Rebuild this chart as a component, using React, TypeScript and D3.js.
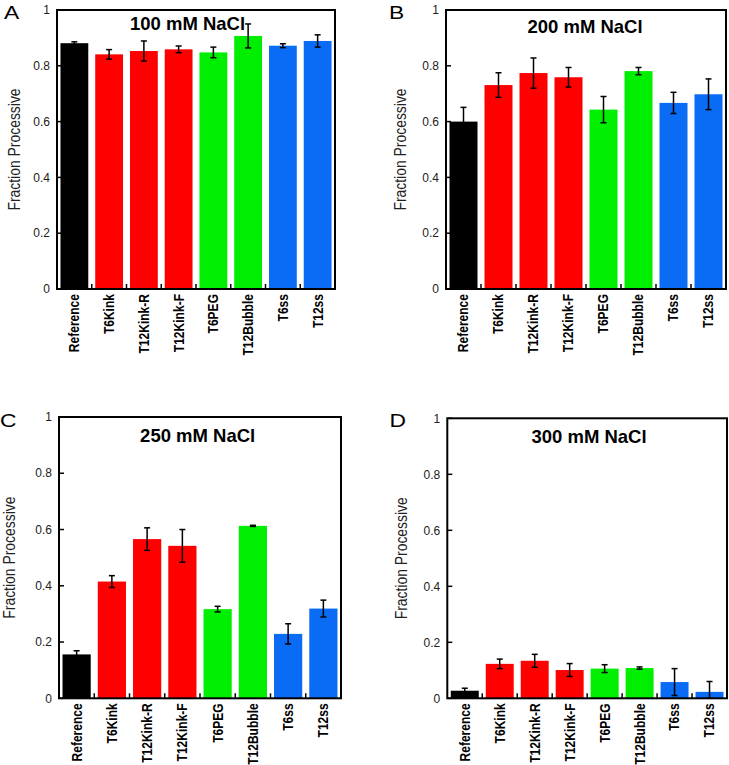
import React from "react";
import * as d3 from "d3";

const categories = ["Reference", "T6Kink", "T12Kink-R", "T12Kink-F", "T6PEG", "T12Bubble", "T6ss", "T12ss"];
const groups = ["ref", "kink", "kink", "kink", "flex", "flex", "ss", "ss"];

const panelLetters = ["A", "B", "C", "D"];
const panelTitles = ["100 mM NaCl", "200 mM NaCl", "250 mM NaCl", "300 mM NaCl"];

const values100 = [0.881, 0.841, 0.853, 0.859, 0.848, 0.907, 0.872, 0.889];
const errors100 = [0.005, 0.017, 0.036, 0.012, 0.019, 0.043, 0.007, 0.022];
const values200 = [0.600, 0.731, 0.774, 0.759, 0.643, 0.781, 0.667, 0.698];
const errors200 = [0.051, 0.044, 0.054, 0.035, 0.047, 0.013, 0.038, 0.055];
const values250 = [0.156, 0.415, 0.566, 0.542, 0.317, 0.613, 0.229, 0.319];
const errors250 = [0.013, 0.021, 0.040, 0.058, 0.010, 0.002, 0.036, 0.030];
const values300 = [0.027, 0.123, 0.134, 0.101, 0.106, 0.108, 0.058, 0.023];
const errors300 = [0.009, 0.017, 0.023, 0.023, 0.014, 0.004, 0.048, 0.037];

const yTicks = [0, 0.2, 0.4, 0.6, 0.8, 1];

const panelValues = [values100, values200, values250, values300];
const panelErrors = [errors100, errors200, errors250, errors300];

const groupColors: Record<string, string> = {
  ref: "#000000",
  kink: "#ff0000",
  flex: "#00ee00",
  ss: "#0a6cf5",
};

// layout (pixel geometry, not data)
const layouts = [
  { left: 57, right: 335, top: 10, bottom: 289, titleX: 187.5, titleY: 29.5, letterX: 4, letterY: 18.5, yLabelX: 14 },
  { left: 446, right: 726, top: 10, bottom: 289, titleX: 585, titleY: 33, letterX: 389, letterY: 18.5, yLabelX: 400 },
  { left: 59, right: 341, top: 417, bottom: 698.3, titleX: 197.7, titleY: 441.7, letterX: 0, letterY: 427, yLabelX: 9.5 },
  { left: 447.3, right: 727, top: 418.3, bottom: 698.3, titleX: 589, titleY: 442.7, letterX: 389.5, letterY: 427, yLabelX: 401 },
];

const FONT = "'Liberation Sans', Arial, Helvetica, sans-serif";

function Panel({ idx }: { idx: number }) {
  const L = layouts[idx];
  const vals = panelValues[idx];
  const errs = panelErrors[idx];
  const x = d3.scaleBand<string>().domain(categories).range([L.left, L.right]).paddingInner(0.2).paddingOuter(0.1);
  const y = d3.scaleLinear().domain([0, 1]).range([L.bottom, L.top]);
  const fmt = d3.format("~g");
  const step = x.step();
  const bw = x.bandwidth();
  const boundaries = categories.slice(0, -1).map((c) => (x(c) as number) + bw + step * 0.1);
  const capW = 6;
  return (
    <g>
      <text transform={`translate(${L.letterX},${L.letterY}) scale(1.2,1)`} fontSize={19} fontFamily={FONT}>{panelLetters[idx]}</text>
      {vals.map((v, i) => {
        const cx = (x(categories[i]) as number);
        return (
          <rect key={"b" + i} x={cx} y={y(v)} width={bw} height={y(0) - y(v)} fill={groupColors[groups[i]]} />
        );
      })}
      {vals.map((v, i) => {
        const cx = (x(categories[i]) as number) + bw / 2;
        const lo = Math.max(0, v - errs[i]);
        const hi = v + errs[i];
        return (
          <g key={"e" + i} stroke="#000" strokeWidth={1.5}>
            <line x1={cx} x2={cx} y1={y(lo)} y2={y(hi)} />
            <line x1={cx - capW / 2} x2={cx + capW / 2} y1={y(hi)} y2={y(hi)} />
            <line x1={cx - capW / 2} x2={cx + capW / 2} y1={y(lo)} y2={y(lo)} />
          </g>
        );
      })}
      {boundaries.map((bx, i) => (
        <line key={"xt" + i} x1={bx} x2={bx} y1={L.bottom} y2={L.bottom - 5} stroke="#000" strokeWidth={1.5} />
      ))}
      {yTicks.map((t) => (
        <g key={"yt" + t}>
          <line x1={L.left} x2={L.left + 5} y1={y(t)} y2={y(t)} stroke="#000" strokeWidth={1.5} />
          <text x={L.left - 7} y={y(t)} dy="0.35em" textAnchor="end" fontSize={12} fontFamily={FONT} fill="#222">{fmt(t)}</text>
        </g>
      ))}
      <rect x={L.left} y={L.top} width={L.right - L.left} height={L.bottom - L.top} fill="none" stroke="#000" strokeWidth={2} />
      <text x={L.titleX} y={L.titleY} textAnchor="middle" fontSize={18.5} fontWeight="bold" fontFamily={FONT}>{panelTitles[idx]}</text>
      <text
        transform={`translate(${L.yLabelX},${(L.top + L.bottom) / 2}) rotate(-90) scale(0.87,1)`}
        textAnchor="middle"
        dy="0.35em"
        fontSize={16}
        fontFamily={FONT}
        fill="#222"
      >
        Fraction Processive
      </text>
      {categories.map((c) => {
        const cx = (x(c) as number) + bw / 2;
        return (
          <text
            key={"xl" + c}
            transform={`translate(${cx},${L.bottom + 5}) rotate(-90) scale(0.86,1)`}
            textAnchor="end"
            dy="0.35em"
            fontSize={14}
            fontWeight="bold"
            fontFamily={FONT}
          >
            {c}
          </text>
        );
      })}
    </g>
  );
}

export default function App() {
  return (
    <svg width={729} height={765} style={{ position: "absolute", left: 0, top: 0, background: "#fff" }}>
      <rect width={729} height={765} fill="#fff" />
      {[0, 1, 2, 3].map((i) => (
        <Panel key={i} idx={i} />
      ))}
    </svg>
  );
}
